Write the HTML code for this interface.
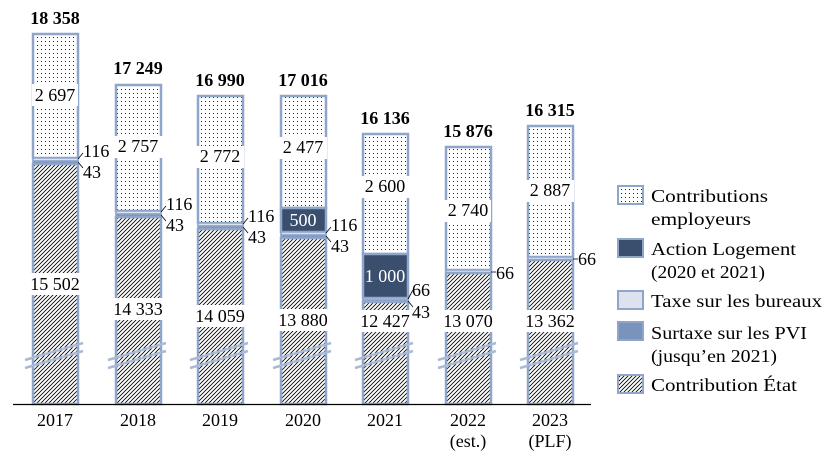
<!DOCTYPE html>
<html><head><meta charset="utf-8"><style>
body{margin:0;background:#fff;}
svg{display:block;font-family:"Liberation Serif",serif;}
.t{font-size:18px;fill:#000;}
.b{font-size:18px;font-weight:bold;fill:#000;}
.lg{font-size:18px;fill:#000;}
</style></head><body>
<svg width="836" height="467" viewBox="0 0 836 467">
<defs>
<pattern id="dots" width="4" height="4" patternUnits="userSpaceOnUse">
<rect width="4" height="4" fill="#fff"/><rect x="1" y="1" width="1" height="1" fill="#222"/>
</pattern>
<pattern id="hatch" width="4" height="4" patternUnits="userSpaceOnUse">
<rect width="4" height="4" fill="#fff"/><path d="M-1,5 L5,-1 M-1,1 L1,-1 M3,5 L5,3" stroke="#000" stroke-width="0.8"/>
</pattern>
</defs>
<g stroke="#8fa5c9" stroke-width="2.5">
<rect x="33" y="34" width="45" height="124" fill="url(#dots)"/>
<rect x="33" y="158" width="45" height="3" fill="#dde3ee" stroke-width="1.5"/>
<rect x="33" y="161" width="45" height="3" fill="#7a93bd" stroke-width="1.5"/>
<rect x="33" y="164" width="45" height="240" fill="url(#hatch)"/>
<rect x="116" y="85" width="45" height="126" fill="url(#dots)"/>
<rect x="116" y="211" width="45" height="3" fill="#dde3ee" stroke-width="1.5"/>
<rect x="116" y="214" width="45" height="3" fill="#7a93bd" stroke-width="1.5"/>
<rect x="116" y="217" width="45" height="187" fill="url(#hatch)"/>
<rect x="198" y="96" width="45" height="127" fill="url(#dots)"/>
<rect x="198" y="223" width="45" height="3" fill="#dde3ee" stroke-width="1.5"/>
<rect x="198" y="226" width="45" height="3" fill="#7a93bd" stroke-width="1.5"/>
<rect x="198" y="229" width="45" height="175" fill="url(#hatch)"/>
<rect x="281" y="96" width="45" height="112" fill="url(#dots)"/>
<rect x="281" y="208" width="45" height="24" fill="#3a4e6e"/>
<rect x="281" y="232" width="45" height="3" fill="#dde3ee" stroke-width="1.5"/>
<rect x="281" y="235" width="45" height="3" fill="#7a93bd" stroke-width="1.5"/>
<rect x="281" y="238" width="45" height="166" fill="url(#hatch)"/>
<rect x="363" y="134" width="45" height="120" fill="url(#dots)"/>
<rect x="363" y="254" width="45" height="44" fill="#3a4e6e"/>
<rect x="363" y="298" width="45" height="2" fill="#dde3ee" stroke-width="1.5"/>
<rect x="363" y="300" width="45" height="2" fill="#7a93bd" stroke-width="1.5"/>
<rect x="363" y="302" width="45" height="102" fill="url(#hatch)"/>
<rect x="446" y="147" width="45" height="123" fill="url(#dots)"/>
<rect x="446" y="270" width="45" height="3" fill="#dde3ee" stroke-width="1.5"/>
<rect x="446" y="273" width="45" height="131" fill="url(#hatch)"/>
<rect x="528" y="126" width="45" height="131" fill="url(#dots)"/>
<rect x="528" y="257" width="45" height="3" fill="#dde3ee" stroke-width="1.5"/>
<rect x="528" y="260" width="45" height="144" fill="url(#hatch)"/>
</g>
<g stroke="#a9bad6" stroke-width="2.5">
<path d="M25,360 L83,343 M25,368 L83,351"/>
<path d="M108,360 L166,343 M108,368 L166,351"/>
<path d="M190,360 L248,343 M190,368 L248,351"/>
<path d="M273,360 L331,343 M273,368 L331,351"/>
<path d="M355,360 L413,343 M355,368 L413,351"/>
<path d="M438,360 L496,343 M438,368 L496,351"/>
<path d="M520,360 L578,343 M520,368 L578,351"/>
</g>
<line x1="13" y1="404.5" x2="591" y2="404.5" stroke="#000" stroke-width="1.2"/>
<g fill="#fff">
<rect x="32" y="84" width="46" height="22"/>
<rect x="113" y="136" width="50" height="22"/>
<rect x="196" y="146" width="48" height="22"/>
<rect x="279" y="137" width="48" height="22"/>
<rect x="361" y="176" width="49" height="22"/>
<rect x="443" y="200" width="48" height="22"/>
<rect x="526" y="180" width="48" height="22"/>
<rect x="28" y="273" width="54" height="22"/>
<rect x="111" y="298" width="54" height="22"/>
<rect x="193" y="305" width="54" height="22"/>
<rect x="276" y="309" width="54" height="22"/>
<rect x="358" y="310" width="54" height="22"/>
<rect x="441" y="310" width="54" height="22"/>
<rect x="523" y="310" width="54" height="22"/>
</g>
<g class="t" text-anchor="middle">
<text x="55" y="101">2 697</text>
<text x="138" y="152">2 757</text>
<text x="220" y="162">2 772</text>
<text x="303" y="153">2 477</text>
<text x="385" y="192">2 600</text>
<text x="468" y="216">2 740</text>
<text x="550" y="196">2 887</text>
<text x="55" y="290">15 502</text>
<text x="138" y="315">14 333</text>
<text x="220" y="322">14 059</text>
<text x="303" y="326">13 880</text>
<text x="385" y="327">12 427</text>
<text x="468" y="327">13 070</text>
<text x="550" y="327">13 362</text>
<text x="303" y="226" fill="#fff">500</text>
<text x="385" y="282" fill="#fff">1 000</text>
</g>
<g class="b" text-anchor="middle">
<text x="55" y="24">18 358</text>
<text x="138" y="74">17 249</text>
<text x="220" y="86">16 990</text>
<text x="303" y="86">17 016</text>
<text x="385" y="124">16 136</text>
<text x="468" y="137">15 876</text>
<text x="550" y="116">16 315</text>
</g>
<g stroke="#000" stroke-width="0.8" fill="none">
<path d="M78,159 L83,153 M78,162 L83,168"/>
<path d="M161,212 L166,206 M161,215 L166,221"/>
<path d="M243,224 L248,218 M243,227 L248,233"/>
<path d="M326,233 L331,227 M326,236 L331,242"/>
<path d="M408,299 L413,290 M408,301 L413,307"/>
<path d="M491,272 L496,272"/>
<path d="M573,259 L578,259"/>
</g>
<g class="t">
<text x="83" y="157">116</text><text x="83" y="178">43</text>
<text x="166" y="210">116</text><text x="166" y="231">43</text>
<text x="248" y="222">116</text><text x="248" y="243">43</text>
<text x="331" y="231">116</text><text x="331" y="252">43</text>
<text x="412" y="296">66</text><text x="412" y="318">43</text>
<text x="496" y="279">66</text>
<text x="578" y="265">66</text>
</g>
<g class="t" text-anchor="middle">
<text x="55" y="426">2017</text>
<text x="138" y="426">2018</text>
<text x="220" y="426">2019</text>
<text x="303" y="426">2020</text>
<text x="385" y="426">2021</text>
<text x="468" y="426">2022</text>
<text x="468" y="447">(est.)</text>
<text x="550" y="426">2023</text>
<text x="550" y="447">(PLF)</text>
</g>
<g stroke="#8fa5c9" stroke-width="2">
<rect x="618" y="186" width="25" height="18" fill="url(#dots)"/>
<rect x="618" y="239" width="25" height="18" fill="#3a4e6e"/>
<rect x="618" y="291" width="25" height="18" fill="#dde3ee"/>
<rect x="618" y="322" width="25" height="18" fill="#7a93bd"/>
<rect x="618" y="375" width="25" height="18" fill="url(#hatch)"/>
</g>
<g class="lg">
<text x="651" y="202" textLength="117" lengthAdjust="spacingAndGlyphs">Contributions</text>
<text x="651" y="225" textLength="100" lengthAdjust="spacingAndGlyphs">employeurs</text>
<text x="651" y="255" textLength="145" lengthAdjust="spacingAndGlyphs">Action Logement</text>
<text x="651" y="278" textLength="114" lengthAdjust="spacingAndGlyphs">(2020 et 2021)</text>
<text x="651" y="307" textLength="171" lengthAdjust="spacingAndGlyphs">Taxe sur les bureaux</text>
<text x="651" y="339" textLength="156" lengthAdjust="spacingAndGlyphs">Surtaxe sur les PVI</text>
<text x="651" y="362" textLength="126" lengthAdjust="spacingAndGlyphs">(jusqu’en 2021)</text>
<text x="651" y="391" textLength="146" lengthAdjust="spacingAndGlyphs">Contribution État</text>
</g>
</svg>
</body></html>
